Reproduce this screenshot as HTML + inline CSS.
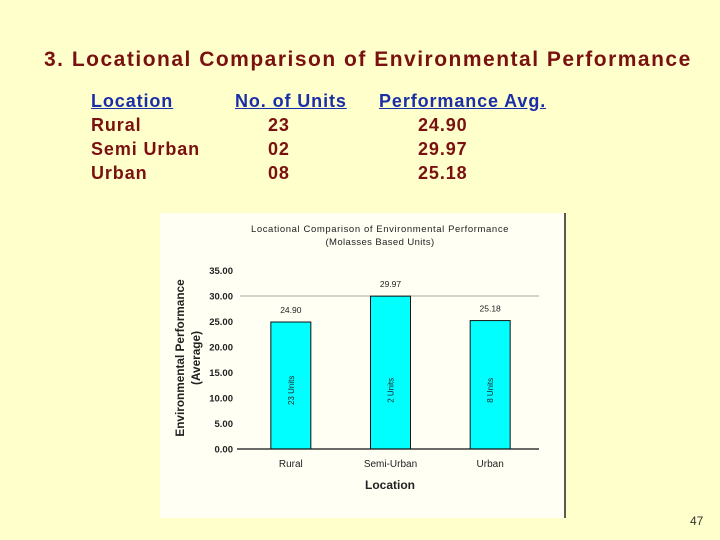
<!DOCTYPE html>
<html><head><meta charset="utf-8"><style>
body{margin:0;width:720px;height:540px;background:#ffffcc;position:relative;overflow:hidden;font-family:"Liberation Sans",Arial,sans-serif}
.t{position:absolute;white-space:nowrap}
.title{left:44px;top:48px;font-size:21px;color:#7a1010;font-weight:bold;letter-spacing:1.5px}
.h{color:#1a2ea8;text-decoration:underline;font-size:18px;font-weight:bold;letter-spacing:0.9px}
.r{color:#7a1010;font-size:18px;font-weight:bold;letter-spacing:0.9px}
</style></head><body>
<div class="t title">3. Locational Comparison of Environmental Performance</div>
<div class="t h" style="left:91px;top:91px">Location</div>
<div class="t h" style="left:235px;top:91px">No. of Units</div>
<div class="t h" style="left:379px;top:91px">Performance Avg.</div>
<div class="t r" style="left:91px;top:115px">Rural</div>
<div class="t r" style="left:91px;top:139px">Semi Urban</div>
<div class="t r" style="left:91px;top:163px">Urban</div>
<div class="t r" style="left:268px;top:115px">23</div>
<div class="t r" style="left:268px;top:139px">02</div>
<div class="t r" style="left:268px;top:163px">08</div>
<div class="t r" style="left:418px;top:115px">24.90</div>
<div class="t r" style="left:418px;top:139px">29.97</div>
<div class="t r" style="left:418px;top:163px">25.18</div>
<div class="t" style="left:690px;top:514px;font-size:12px;color:#333">47</div>
<svg id="c" width="720" height="540" style="position:absolute;left:0;top:0"></svg>
<script>
const categories=["Rural","Semi-Urban","Urban"];
const values=[24.90,29.97,25.18];
const valueLabels=["24.90","29.97","25.18"];
const unitLabels=["23 Units","2 Units","8 Units"];
const yTicks=[0,5,10,15,20,25,30,35];
const svg=document.getElementById('c');
const NS='http://www.w3.org/2000/svg';
function mk(t,a,txt){const e=document.createElementNS(NS,t);for(const k in a)e.setAttribute(k,a[k]);if(txt!=null)e.textContent=txt;svg.appendChild(e);return e;}
const x0=240,x1=539,y0=449,yTop=270.5;
const y=v=>y0-(v/35)*(y0-yTop);
const step=(x1-x0)/categories.length;
const cx=i=>x0+step*(i+0.5)+1;
const bw=40;
let e=mk('rect',{x:160,y:213,width:405,height:305,fill:'#fffff4'});

e=mk('line',{x1:565,y1:213,x2:565,y2:518,stroke:'#222','stroke-width':1.5});

e=mk('text',{x:380,y:232,'font-size':9.5,'letter-spacing':0.6,'text-anchor':'middle',fill:'#222','font-family':'Liberation Sans'},'Locational Comparison of Environmental Performance');

e=mk('text',{x:380,y:245,'font-size':9.5,'letter-spacing':0.4,'text-anchor':'middle',fill:'#222','font-family':'Liberation Sans'},'(Molasses Based Units)');

e=mk('line',{x1:x0,y1:y(30),x2:x1,y2:y(30),stroke:'#aaa','stroke-width':1});

yTicks.forEach(v=>{
 const t=mk('text',{x:233,y:y(v)+3.5,'font-size':9.5,'text-anchor':'end','font-weight':'bold',fill:'#222','font-family':'Liberation Sans'},v.toFixed(2));
 
});
categories.forEach((c,i)=>{
 const b=mk('rect',{x:cx(i)-bw/2,y:y(values[i]),width:bw,height:y0-y(values[i]),fill:'#00ffff',stroke:'#111','stroke-width':1});
 
 const vl=mk('text',{x:cx(i),y:y(values[i])-9,'font-size':8.5,'text-anchor':'middle',fill:'#222','font-family':'Liberation Sans'},valueLabels[i]);
 
 const ul=mk('text',{x:0,y:0,'font-size':8,'text-anchor':'middle',fill:'#222','font-family':'Liberation Sans',transform:`translate(${cx(i)+3},${y(11.5)}) rotate(-90)`},unitLabels[i]);
 
 const cl=mk('text',{x:cx(i),y:467,'font-size':10,'text-anchor':'middle',fill:'#222','font-family':'Liberation Sans'},c);
 
});
e=mk('line',{x1:x0-3,y1:y0,x2:x1,y2:y0,stroke:'#111','stroke-width':1.2});

e=mk('text',{x:390,y:489,'font-size':12,'font-weight':'bold','text-anchor':'middle',fill:'#222','font-family':'Liberation Sans'},'Location');

e=mk('text',{x:0,y:0,'font-size':11.8,'font-weight':'bold','text-anchor':'middle',fill:'#222','font-family':'Liberation Sans',transform:'translate(184,358) rotate(-90)'},'Environmental Performance');

e=mk('text',{x:0,y:0,'font-size':11.8,'font-weight':'bold','text-anchor':'middle',fill:'#222','font-family':'Liberation Sans',transform:'translate(200,358) rotate(-90)'},'(Average)');

</script>
</body></html>
